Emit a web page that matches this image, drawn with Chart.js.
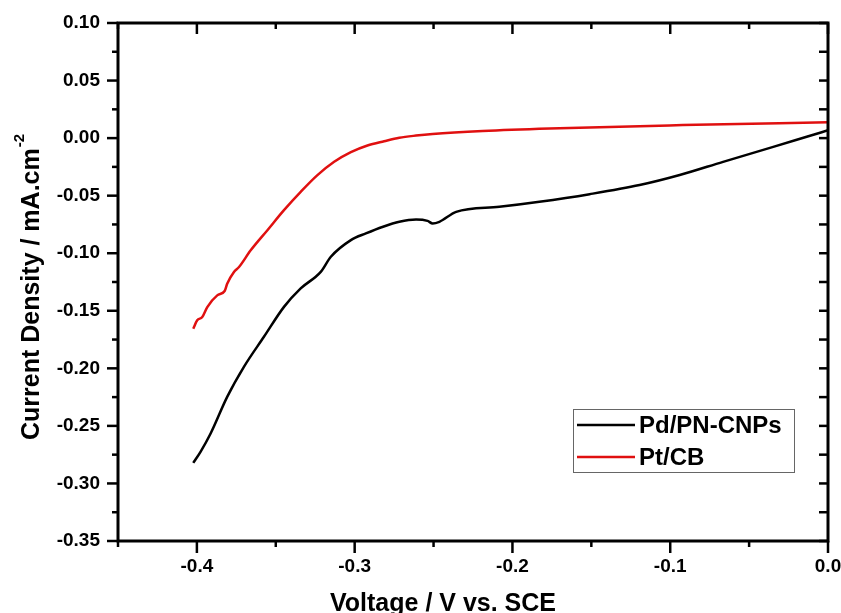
<!DOCTYPE html>
<html>
<head>
<meta charset="utf-8">
<script src="https://cdn.jsdelivr.net/npm/chart.js@4/dist/chart.umd.min.js"></script>
<style>
  html, body { margin: 0; padding: 0; background: #fff; }
  #chart { display: block; }
</style>
</head>
<body>
<canvas id="chart" width="841" height="613"></canvas>
<script>
// values
const seriesNames = ["Pd/PN-CNPs", "Pt/CB"];
const seriesColors = ["#000000", "#e01010"];

const voltagePd = [-0.4023, -0.3977, -0.3913, -0.3808, -0.3702, -0.3575, -0.3448, -0.3342, -0.3215, -0.3151,
    -0.3024, -0.2929, -0.2820, -0.2717, -0.2611, -0.2538, -0.2506, -0.2463, -0.2357, -0.2083,
    -0.1829, -0.1511, -0.1194, -0.0940, -0.0665, -0.0347, -0.0135, 0.0];
const currentPd = [-0.2821, -0.2725, -0.2566, -0.2248, -0.1987, -0.1726, -0.1466, -0.1306, -0.1162, -0.1031,
    -0.0886, -0.0828, -0.0770, -0.0727, -0.0707, -0.0719, -0.0742, -0.0727, -0.0641, -0.0597,
    -0.0553, -0.0487, -0.0408, -0.0321, -0.0206, -0.0076, 0.0012, 0.0068];

const voltagePt = [-0.4023, -0.3998, -0.3966, -0.3934, -0.3871, -0.3824, -0.3808, -0.3765, -0.3733, -0.3659,
    -0.3553, -0.3448, -0.3342, -0.3236, -0.3130, -0.3024, -0.2919, -0.2813, -0.2717, -0.2611,
    -0.2506, -0.2189, -0.1765, -0.0921, 0.0];
const currentPt = [-0.1656, -0.1583, -0.1555, -0.1468, -0.1366, -0.1328, -0.1265, -0.1163, -0.1120, -0.0975,
    -0.0800, -0.0626, -0.0467, -0.0322, -0.0206, -0.0122, -0.0064, -0.0027, 0.0003, 0.0022,
    0.0036, 0.0062, 0.0084, 0.0113, 0.0138];

const xTickValues = [-0.4, -0.3, -0.2, -0.1, 0.0];
const xMinorValues = [-0.45, -0.35, -0.25, -0.15, -0.05];
const yTickValues = [0.10, 0.05, 0.00, -0.05, -0.10, -0.15, -0.20, -0.25, -0.30, -0.35];
const yMinorValues = [0.075, 0.025, -0.025, -0.075, -0.125, -0.175, -0.225, -0.275, -0.325];

const xTitle = "Voltage / V vs. SCE";
const yTitle = "Current Density / mA.cm";
const yTitleSup = "-2";

const FONT = "'Liberation Sans', Arial, Helvetica, sans-serif";

const toPoints = (xs, ys) => xs.map((x, i) => ({ x, y: ys[i] }));

// box, tick marks, axis titles, legend
const frame = {
    id: "frame",
    afterDraw(chart) {
        const ctx = chart.ctx;
        const { left, right, top, bottom } = chart.chartArea;
        const xs = chart.scales.x;
        const ys = chart.scales.y;
        ctx.save();
        ctx.strokeStyle = "#000";
        ctx.lineCap = "butt";

        // ticks
        ctx.lineWidth = 2.5;
        const tick = (x1, y1, x2, y2) => {
            ctx.beginPath();
            ctx.moveTo(x1, y1);
            ctx.lineTo(x2, y2);
            ctx.stroke();
        };
        xTickValues.forEach(v => {
            const px = xs.getPixelForValue(v);
            tick(px, bottom, px, bottom + 12);
            tick(px, top, px, top + 11);
        });
        xMinorValues.forEach(v => {
            const px = xs.getPixelForValue(v);
            tick(px, bottom, px, bottom + 6);
            tick(px, top, px, top + 6);
        });
        yTickValues.forEach(v => {
            const py = ys.getPixelForValue(v);
            tick(left - 11, py, left, py);
            tick(right - 9, py, right, py);
        });
        yMinorValues.forEach(v => {
            const py = ys.getPixelForValue(v);
            tick(left - 6, py, left, py);
            tick(right - 9, py, right, py);
        });

        // box
        ctx.lineWidth = 3;
        ctx.strokeRect(left, top, right - left, bottom - top);

        // axis titles
        ctx.fillStyle = "#000";
        ctx.font = "bold 25px " + FONT;
        ctx.textAlign = "center";
        ctx.textBaseline = "alphabetic";
        ctx.fillText(xTitle, 443, 611);

        ctx.save();
        ctx.translate(39, 440);
        ctx.rotate(-Math.PI / 2);
        ctx.textAlign = "left";
        ctx.font = "bold 25px " + FONT;
        ctx.fillText(yTitle, 0, 0);
        const w = ctx.measureText(yTitle).width;
        ctx.font = "bold 15px " + FONT;
        ctx.fillText(yTitleSup, w + 1, -15);
        ctx.restore();

        // legend
        const lx = 573, ly = 409, lw = 221, lh = 63;
        ctx.lineWidth = 1;
        ctx.strokeStyle = "#666";
        ctx.strokeRect(lx + 0.5, ly + 0.5, lw, lh);
        ctx.font = "bold 24px " + FONT;
        ctx.textAlign = "left";
        ctx.textBaseline = "middle";
        chart.data.datasets.forEach((ds, i) => {
            const cy = ly + 16 + i * 32;
            ctx.strokeStyle = ds.borderColor;
            ctx.lineWidth = 2.5;
            tick(lx + 4, cy, lx + 62, cy);
            ctx.fillStyle = "#000";
            ctx.fillText(ds.label, lx + 66, cy + 1);
        });
        ctx.restore();
    }
};

const chart = new Chart(document.getElementById("chart"), {
    type: "line",
    data: {
        datasets: [
            {
                label: seriesNames[0],
                data: toPoints(voltagePd, currentPd),
                borderColor: seriesColors[0],
                borderWidth: 2.5,
                pointRadius: 0,
                cubicInterpolationMode: "monotone",
                fill: false
            },
            {
                label: seriesNames[1],
                data: toPoints(voltagePt, currentPt),
                borderColor: seriesColors[1],
                borderWidth: 2.5,
                pointRadius: 0,
                cubicInterpolationMode: "monotone",
                fill: false
            }
        ]
    },
    options: {
        responsive: false,
        animation: false,
        devicePixelRatio: 1,
        layout: { padding: { top: 23, right: 13, left: 0, bottom: 0 } },
        plugins: {
            legend: { display: false },
            tooltip: { enabled: false }
        },
        scales: {
            x: {
                type: "linear",
                min: -0.45,
                max: 0,
                grid: { display: false, drawTicks: false },
                border: { display: false },
                afterBuildTicks: (scale) => {
                    scale.ticks = xTickValues.map(v => ({ value: v }));
                },
                afterFit: (scale) => {
                    scale.height = 72;
                    scale.paddingLeft = 0;
                    scale.paddingRight = 0;
                },
                ticks: {
                    color: "#000",
                    padding: 14,
                    maxRotation: 0,
                    autoSkip: false,
                    font: { family: FONT, size: 19, weight: "bold" },
                    callback: (v) => Number(v).toFixed(1)
                }
            },
            y: {
                type: "linear",
                min: -0.35,
                max: 0.10,
                grid: { display: false, drawTicks: false },
                border: { display: false },
                afterBuildTicks: (scale) => {
                    scale.ticks = yTickValues.map(v => ({ value: v }));
                },
                afterFit: (scale) => {
                    scale.width = 118;
                    scale.paddingTop = 0;
                    scale.paddingBottom = 0;
                },
                ticks: {
                    color: "#000",
                    padding: 18,
                    autoSkip: false,
                    font: { family: FONT, size: 19, weight: "bold" },
                    callback: (v) => Number(v).toFixed(2)
                }
            }
        }
    },
    plugins: [frame]
});
</script>
</body>
</html>
